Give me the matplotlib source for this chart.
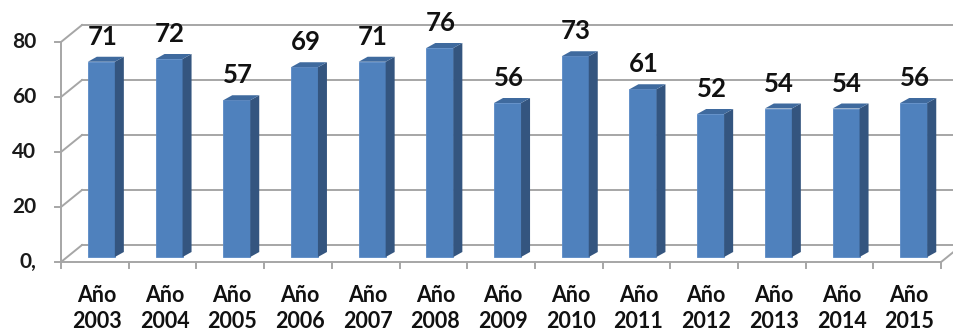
import matplotlib
matplotlib.use('Agg')
import matplotlib.pyplot as plt
from matplotlib.patches import Polygon

# ------------------------------------------------------------------
years = ['2003', '2004', '2005', '2006', '2007', '2008', '2009',
         '2010', '2011', '2012', '2013', '2014', '2015']
values = [71, 72, 57, 69, 71, 76, 56, 73, 61, 52, 54, 54, 56]
y_ticks = [0, 20, 40, 60, 80]
y_tick_labels = ['0,', '20', '40', '60', '80']

plt.rcParams['font.family'] = ['Lato', 'DejaVu Sans']

W, H = 954, 330
fig = plt.figure(figsize=(W / 100, H / 100), dpi=100)
ax = fig.add_axes([0, 0, 1, 1])

# pixel layout of the front plane
px_cat = 67.7          # pixels per category
px_val = 2.75          # pixels per value unit
x0_px, y0_px = 61, 262 # front-left corner (x=-0.5, value=0)
ax.set_xlim(-0.5 - x0_px / px_cat, -0.5 + (W - x0_px) / px_cat)
ax.set_ylim(-(H - y0_px) / px_val, y0_px / px_val)
ax.axis('off')

n = len(years)
# oblique depth offsets (in data units)
wall_dx, wall_dy = 21 / px_cat, 17 / px_val
bar_ox, bar_oy = 6.5 / px_cat, 5 / px_val
bar_dx, bar_dy = 9 / px_cat, 5 / px_val
bar_w = 27 / px_cat

grid_c = '#A6A6A6'
lw = 1.4

#------------------ walls / grid
x_left, x_right = -0.5, n - 0.5
for v, lab in zip(y_ticks, y_tick_labels):
    ax.plot([x_left, x_left + wall_dx], [v, v + wall_dy], color=grid_c, lw=lw)
    ax.plot([x_left + wall_dx, x_right + wall_dx], [v + wall_dy, v + wall_dy],
            color=grid_c, lw=lw)
    ax.plot([x_left - 6 / px_cat, x_left], [v, v], color=grid_c, lw=lw)
    ax.text(x_left - 25 / px_cat, v, lab,
            ha='right', va='center', fontsize=15, fontweight='bold',
            color='#1a1a1a')

ax.plot([x_left, x_left], [0, max(y_ticks)], color=grid_c, lw=lw)
ax.plot([x_left, x_right], [0, 0], color=grid_c, lw=lw)
ax.plot([x_right, x_right + wall_dx], [0, wall_dy], color=grid_c, lw=lw)
for i in range(n + 1):
    xb = i - 0.5
    ax.plot([xb, xb], [0, -6 / px_val], color=grid_c, lw=lw)

#------------------ bars
face_c = '#4F81BD'
side_c = '#34557F'
top_c = '#3F6A9E'
xs = [i - bar_w / 2 + bar_ox for i in range(n)]
ax.bar(xs, values, width=bar_w, bottom=bar_oy, align='edge',
       color=face_c, edgecolor='#5A8AC6', linewidth=0.6, zorder=3)

for x, v in zip(xs, values):
    xr = x + bar_w
    top = v + bar_oy
    side = [(xr, bar_oy), (xr + bar_dx, bar_oy + bar_dy),
            (xr + bar_dx, top + bar_dy), (xr, top)]
    roof = [(x, top), (xr, top), (xr + bar_dx, top + bar_dy),
            (x + bar_dx, top + bar_dy)]
    ax.add_patch(Polygon(side, closed=True, color=side_c, zorder=3, lw=0))
    ax.add_patch(Polygon(roof, closed=True, color=top_c, zorder=3, lw=0))
    ax.text(x + bar_w / 2 + 1 / px_cat, top + 17 / px_val, str(v),
            ha='center', va='baseline', fontsize=18.5, fontweight='bold',
            color='#111111', zorder=4)

#------------------ category labels
for i, yr in enumerate(years):
    ax.text(i + 2 / px_cat, -40 / px_val, u'Año', ha='center', va='baseline',
            fontsize=15.5, fontweight='bold', color='#111111')
    ax.text(i + 2 / px_cat, -65.5 / px_val, yr, ha='center', va='baseline',
            fontsize=15.5, fontweight='bold', color='#111111')

plt.savefig('out.png', dpi=100)
